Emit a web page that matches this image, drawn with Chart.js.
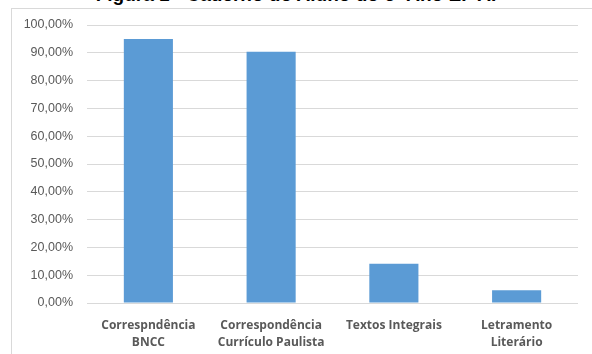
<!DOCTYPE html>
<html><head><meta charset="utf-8">
<script src="https://cdn.jsdelivr.net/npm/chart.js"></script>
<style>
html,body{margin:0;padding:0;background:#fff;overflow:hidden}
#wrap{position:relative;width:592px;height:354px}
#box{position:absolute;left:11px;top:8px;width:600px;height:400px;border:1px solid #d9d9d9;box-sizing:border-box}
#ttl{position:absolute;left:0;width:592px;top:-16px;text-align:center;font:bold 19px "Liberation Sans",Arial,sans-serif;color:#000;white-space:nowrap}
canvas{position:absolute;left:0;top:0}
</style></head>
<body>
<div id="wrap">
  <div id="box"></div>
  <div id="ttl">Figura 1 - Caderno do Aluno do 6º Ano EF AI</div>
  <canvas id="c" width="592" height="354"></canvas>
</div>
<script>
const categories=[["Correspndência","BNCC"],["Correspondência","Currículo Paulista"],["Textos Integrais"],["Letramento","Literário"]];
const values=[95.0,90.4,14.1,4.6];
const yTicks=[0,10,20,30,40,50,60,70,80,90,100];

new Chart(document.getElementById('c'),{
  type:'bar',
  data:{labels:categories,datasets:[{data:values,backgroundColor:'#5b9bd5',categoryPercentage:1,barPercentage:0.4}]},
  options:{
    responsive:false,animation:false,
    layout:{padding:{left:22,right:14,top:25,bottom:0}},
    plugins:{legend:{display:false},tooltip:{enabled:false}},
    scales:{
      x:{grid:{display:false},border:{display:false},afterFit:s=>{s.height=51;},
        ticks:{color:'#595959',padding:6,font:{family:'"Open Sans"',size:12,weight:'bold',lineHeight:1.4},maxRotation:0,autoSkip:false}},
      y:{min:0,max:100,afterBuildTicks:a=>{a.ticks=yTicks.map(v=>({value:v}));},afterFit:s=>{s.width=65;},
        grid:{color:'#d9d9d9',drawTicks:false},border:{display:false},
        ticks:{color:'#595959',padding:14,font:{family:'"Liberation Sans"',size:12.5},
          callback:v=>v.toFixed(2).replace('.',',')+'%'}}
    }
  }
});
</script>
</body></html>
